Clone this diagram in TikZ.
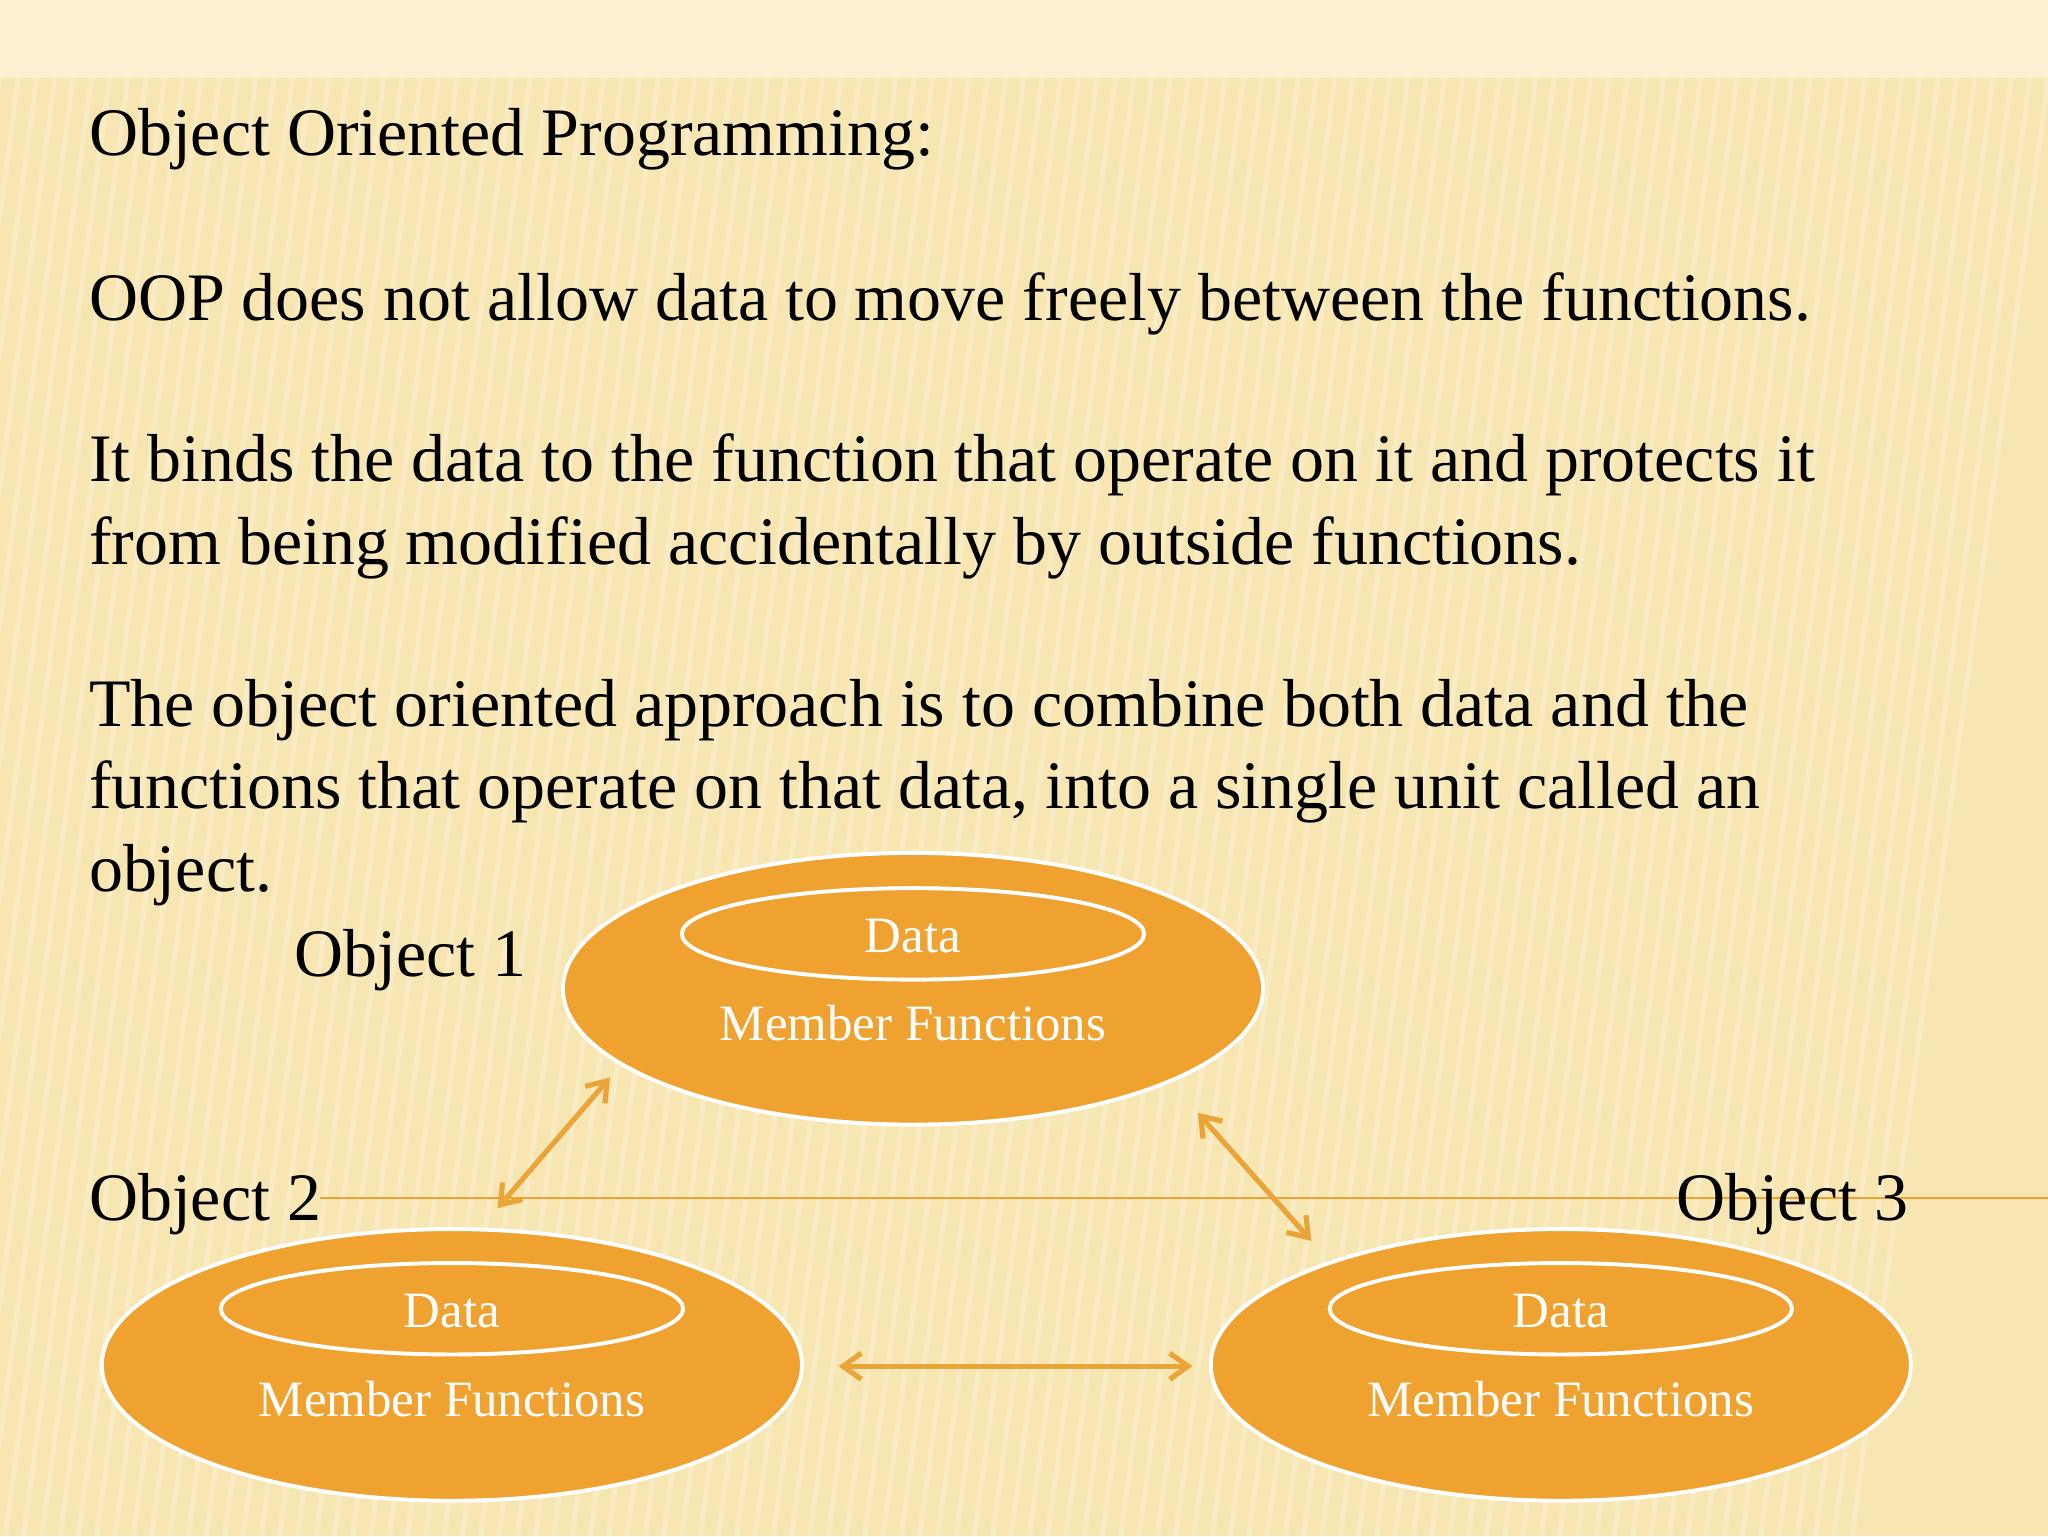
\documentclass[tikz,border=0pt]{standalone}
\usepackage{fontspec}
\setmainfont{Liberation Serif}
\usetikzlibrary{shapes.geometric,arrows.meta}
\definecolor{bgy}{HTML}{F7E6B2}
\definecolor{bgtop}{HTML}{FBF0D2}
\definecolor{org}{HTML}{EFA22F}
\definecolor{arr}{HTML}{E9A43A}
\tikzset{
 obj/.style={ellipse,draw=white,line width=3pt,fill=org,minimum width=536pt,minimum height=208pt},
 inner/.style={ellipse,draw=white,line width=3pt,minimum width=354pt,minimum height=70pt},
 wt/.style={text=white,font=\fontsize{39}{42}\selectfont},
 bt/.style={font=\fontsize{52}{63}\selectfont,anchor=west,inner sep=0pt},
 dar/.style={{Straight Barb[length=14pt,width=20pt]}-{Straight Barb[length=14pt,width=20pt]},draw=arr,line width=4pt}
}
\begin{document}
\begin{tikzpicture}[x=1pt,y=-1pt]
\useasboundingbox (0,0) rectangle (1568,1176);
\fill[bgy] (0,0) rectangle (1568,1176);
\fill[bgtop] (0,0) rectangle (1568,60);
\foreach \i in {0,14,...,1568} \draw[white,opacity=0.25,line width=4pt] (\i,60) -- (\i-150,1176);
\draw[org,line width=1.2pt] (245,917) -- (1568,917);
\node[bt] at (68,107) {Object Oriented Programming:};
\node[bt] at (68,233) {OOP does not allow data to move freely between the functions.};
\node[bt,align=left,anchor=north west] at (68,332) {It binds the data to the function that operate on it and protects it\\from being modified accidentally by outside functions.};
\node[bt,align=left,anchor=north west] at (68,520) {The object oriented approach is to combine both data and the\\functions that operate on that data, into a single unit called an\\object.};
\node[obj] (o1) at (699,757) {};
\node[inner] (i1) at (699,715) {};
\node[wt] (d1) at (699,717) {Data};
\node[wt] (m1) at (699,783) {Member Functions};
\node[obj] (o2) at (346,1045) {};
\node[inner] (i2) at (346,1002) {};
\node[wt] (d2) at (346,1004) {Data};
\node[wt] (m2) at (346,1071) {Member Functions};
\node[obj] (o3) at (1195,1045) {};
\node[inner] (i3) at (1195,1002) {};
\node[wt] (d3) at (1195,1004) {Data};
\node[wt] (m3) at (1195,1071) {Member Functions};
\node[bt] (l1) at (225,735) {Object 1};
\node[bt] (l2) at (68,922) {Object 2};
\node[bt] (l3) at (1283,922) {Object 3};
\coordinate (a1) at (467,825); \coordinate (a2) at (381,925);
\coordinate (b1) at (917,852); \coordinate (b2) at (1004,950);
\coordinate (c1) at (642,1046); \coordinate (c2) at (913,1046);
\draw[dar] (a1) -- (a2);
\draw[dar] (b1) -- (b2);
\draw[dar] (c1) -- (c2);
\end{tikzpicture}
\end{document}
